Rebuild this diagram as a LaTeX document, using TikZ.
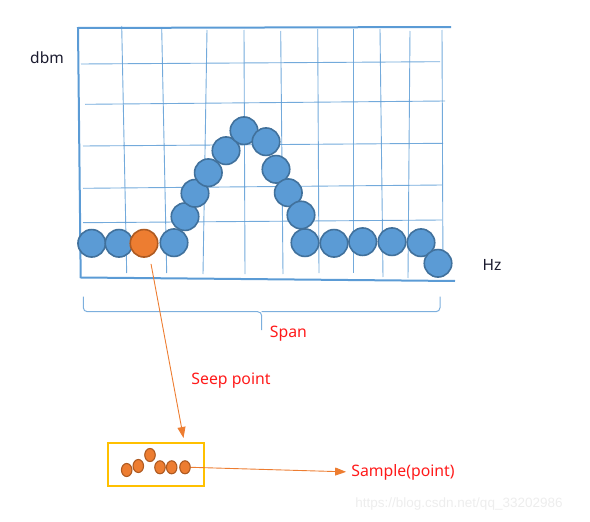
\documentclass[tikz,border=0pt]{standalone}
\usepackage{fontspec}
\setmainfont{Noto Sans}
\newfontfamily\wmfont{Liberation Sans}
\usetikzlibrary{arrows.meta,shapes.geometric}
\definecolor{gridblue}{HTML}{5B9BD5}
\definecolor{dotfill}{HTML}{5B9BD5}
\definecolor{dotline}{HTML}{41719C}
\definecolor{orfill}{HTML}{ED7D31}
\definecolor{orline}{HTML}{AE5A21}
\definecolor{boxyellow}{HTML}{FFC000}
\definecolor{labred}{HTML}{FF1A1A}
\definecolor{txtdark}{HTML}{1A1A2E}
\definecolor{wmgray}{HTML}{EDEDED}
\tikzset{
  gridline/.style={draw=gridblue, line width=0.9pt, opacity=0.85},
  frameline/.style={draw=gridblue, line width=2pt},
  bluedot/.style={circle, fill=dotfill, draw=dotline, line width=1.6pt, minimum size=27.5pt, inner sep=0pt},
  orangedot/.style={circle, fill=orfill, draw=orline, line width=1.6pt, minimum size=27.5pt, inner sep=0pt},
  smalldot/.style={ellipse, fill=orfill, draw=orline, line width=1.1pt, minimum width=10.5pt, minimum height=13pt, inner sep=0pt},
  bracestyle/.style={draw=gridblue!80, line width=1pt, rounded corners=4pt},
  redlabel/.style={text=labred, font=\fontsize{15.8}{17}\selectfont, inner sep=0pt},
  axislabel/.style={text=txtdark, font=\fontsize{15.5}{17}\selectfont, inner sep=0pt},
  orarrow/.style={draw=orfill, line width=0.9pt, -{Triangle[length=11pt,width=8pt]}},
  samplebox/.style={draw=boxyellow, line width=2pt, minimum width=96pt, minimum height=43pt, inner sep=0pt}
}
\begin{document}
\begin{tikzpicture}[x=1pt,y=-1pt]
\useasboundingbox (0,0) rectangle (590,522);
% grid vertical
\draw[gridline] (121.7,26) -- (126.7,273);
\draw[gridline] (161.7,28) -- (166.7,273);
\draw[gridline] (207,30) -- (203,274);
\draw[gridline] (244,30) -- (245,274);
\draw[gridline] (280.7,31) -- (283,274);
\draw[gridline] (317.7,29) -- (319,273);
\draw[gridline] (353,29) -- (353,273);
\draw[gridline] (380,29) -- (383,277);
\draw[gridline] (410,31) -- (408,278);
\draw[gridline] (442,30) -- (443,276);
% grid horizontal
\draw[gridline] (81,64) -- (440,61.7);
\draw[gridline] (85,104.3) -- (445,101);
\draw[gridline] (83,146) -- (443,143.3);
\draw[gridline] (83,188.3) -- (442,185);
\draw[gridline] (83,222.7) -- (442,220);
% frame
\draw[frameline] (451,27) -- (78,28) -- (80.7,278);
\draw[frameline] (80.7,277.5) -- (455,281);
% labels
\node[axislabel] (dbm) at (47,58) {dbm};
\node[axislabel] (hz) at (492,265) {Hz};
% dots
\node[bluedot] (c1) at (91.7,243.3) {};
\node[bluedot] (c2) at (119,243.3) {};
\node[orangedot] (c3) at (144,243.3) {};
\node[bluedot] (c4) at (174,242.7) {};
\node[bluedot] (c5) at (185,216.7) {};
\node[bluedot] (c6) at (195,193.3) {};
\node[bluedot] (c7) at (208.3,172.7) {};
\node[bluedot] (c8) at (226,150.7) {};
\node[bluedot] (c9) at (244,130.7) {};
\node[bluedot] (c10) at (266,141.7) {};
\node[bluedot] (c11) at (276,169.3) {};
\node[bluedot] (c12) at (288.3,192.7) {};
\node[bluedot] (c13) at (301,215) {};
\node[bluedot] (c14) at (305,242.7) {};
\node[bluedot] (c15) at (334,243.3) {};
\node[bluedot] (c16) at (362.7,241.7) {};
\node[bluedot] (c17) at (392,241.7) {};
\node[bluedot] (c18) at (421,242.7) {};
\node[bluedot] (c19) at (438,263.3) {};
% brace
\coordinate (bl) at (83.3,296.7);
\coordinate (bm) at (261.7,311.7);
\coordinate (bt) at (261.7,330);
\coordinate (br) at (440,296.7);
\draw[bracestyle] (bl) -- (bl |- bm) -- (bm) -- (bt);
\draw[bracestyle] (bm) -- (br |- bm) -- (br);
% labels
\node[redlabel] (span) at (288.5,334) {Span};
\node[redlabel] (seep) at (231,380.5) {Seep point};
\node[redlabel] (sample) at (403,472) {Sample(point)};
% box
\node[samplebox] (box) at (156,464.3) {};
\node[smalldot] (e1) at (126.7,470) {};
\node[smalldot] (e2) at (138.3,466) {};
\node[smalldot] (e3) at (150,455) {};
\node[smalldot] (e4) at (160,467.3) {};
\node[smalldot] (e5) at (171.7,467.3) {};
\node[smalldot] (e6) at (185,467.3) {};
% arrows
\coordinate (seeptip) at (183.5,438);
\draw[orarrow] (c3.south) ++(7,6) -- (seeptip);
\draw[orarrow] (e6.east) -- (sample.west) [shorten >=5pt];
% watermark
\node[text=wmgray, font=\wmfont\fontsize{13.5}{15}\selectfont, inner sep=0pt] (wm) at (459,504) {https://blog.csdn.net/qq\_33202986};
\end{tikzpicture}
\end{document}
